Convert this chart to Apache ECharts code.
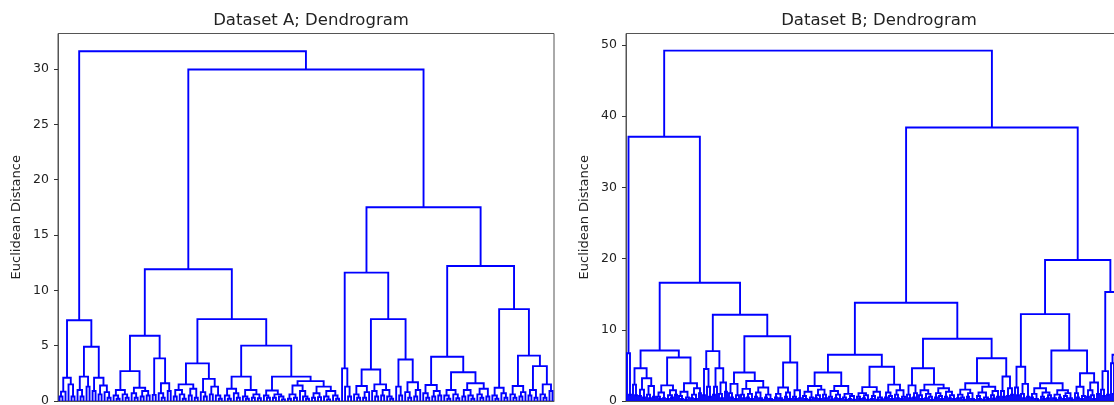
<!DOCTYPE html>
<html><head><meta charset="utf-8">
<script src="https://cdn.jsdelivr.net/npm/echarts@6/dist/echarts.min.js"></script>
<style>html,body{margin:0;padding:0;background:#fff}#c{width:1114px;height:405px}</style>
</head><body><div id="c"></div>
<script>
// Dendrogram trees: node = [mergeHeight, left, right]; 0 = a leaf.
const titles = ['Dataset A; Dendrogram', 'Dataset B; Dendrogram'];
const yName = 'Euclidean Distance';
const ticksA = [0, 5, 10, 15, 20, 25, 30];
const ticksB = [0, 10, 20, 30, 40, 50];
const yMaxA = 33.2, yMaxB = 51.6;

// ---- Dataset A ----
const A_c1 = [7.3,
  [2.1, [0.85,[0.4,0,0],0], [1.5,0,[0.4,0,0]]],
  [4.9,
    [2.2, [1.0,0,[0.4,0,0]], [1.3,0,0]],
    [2.1, [0.9,0,0], [1.4,[0.6,0,0],[0.8,0,[0.3,0,0]]]]]];
const A_c2a = [5.9,
  [2.7, [1.0,[0.5,0,[0.2,0,0]],[0.6,0,[0.3,0,0]]], [1.2,[0.7,0,[0.3,0,0]],[0.9,[0.4,0,0],[0.5,0,0]]]],
  [3.85, [0.55,0,0], [1.6,[0.7,0,[0.3,0,0]],[0.9,0,0]]]];
const A_c2b = [7.4,
  [3.4,
    [1.5,[1.0,[0.4,0,0],[0.6,0,[0.2,0,0]]],[1.1,[0.5,0,0],[0.3,0,0]]],
    [2.0,[0.8,0,[0.4,0,0]],[1.3,[0.6,0,0],[0.5,0,[0.2,0,0]]]]],
  [5.0,
    [2.2,[1.1,[0.5,0,[0.2,0,0]],[0.7,0,[0.3,0,0]]],[1.0,[0.4,0,[0.2,0,0]],[0.6,[0.3,0,0],[0.25,0,0]]]],
    [2.2,
      [0.95,[0.5,0,[0.3,0,0]],[0.6,[0.3,0,0],[0.4,0,[0.15,0,0]]]],
      [1.8,
        [1.4,[0.6,[0.2,0,0],[0.3,0,0]],[0.9,0,[0.4,0,[0.2,0,0]]]],
        [1.3,[0.7,[0.3,0,0],[0.35,0,0]],[0.9,[0.4,0,[0.15,0,0]],[0.5,0,[0.2,0,0]]]]]]]];
const A_c3 = [17.5,
  [11.6,
    [2.95, 0, [1.3,0,[0.4,0,0]]],
    [7.4,
      [2.85,[1.35,[0.6,0,[0.3,0,0]],[0.8,[0.3,0,0],0]],[1.5,[0.9,0,[0.4,0,0]],[1.0,[0.5,0,0],[0.4,0,[0.2,0,0]]]]],
      [3.75,[1.3,0,[0.5,0,0]],[1.7,[0.8,0,[0.3,0,0]],[1.0,[0.4,0,0],0]]]]],
  [12.2,
    [4.0,
      [1.45,[0.7,0,[0.3,0,0]],[0.9,[0.4,0,0],[0.5,0,0]]],
      [2.6,[1.0,[0.5,0,[0.2,0,0]],[0.6,0,[0.25,0,0]]],[1.6,[1.0,[0.4,0,0],[0.5,0,[0.2,0,0]]],[1.1,[0.6,0,[0.3,0,0]],[0.4,0,0]]]]],
    [8.3,
      [1.2,[0.5,0,[0.2,0,0]],[0.7,0,[0.3,0,0]]],
      [4.1,
        [1.35,[0.6,0,[0.3,0,0]],[0.8,[0.4,0,0],0]],
        [3.15,[1.0,[0.5,0,0],[0.3,0,0]],[1.5,[0.6,0,[0.3,0,0]],[0.9,0,0]]]]]]];
const treeA = [31.6, A_c1, [29.95, [11.9, A_c2a, A_c2b], A_c3]];

// ---- Dataset B ----
const B_left = [37.1,
  [6.7, 0, [0.9,0,0]],
  [16.6,
    [7.1,
      [4.6, [2.3,0,[0.8,0,0]], [3.2,[1.6,[0.7,0,0],[0.5,0,0]],[2.1,[0.9,0,[0.4,0,0]],[0.6,0,0]]]],
      [6.1,
        [2.2,[1.2,[0.6,0,[0.3,0,0]],[0.4,0,0]],[1.5,[0.8,[0.3,0,0],[0.5,0,0]],[0.9,0,0]]],
        [2.5,[1.3,[0.7,0,[0.3,0,0]],[0.5,[0.2,0,0],0]],[1.8,[0.9,[0.4,0,0],[0.3,0,0]],[1.1,0,0]]]]],
    [12.1,
      [7.0, [4.5,[0.8,0,0],[2.0,0,[0.6,0,0]]], [4.6,[2.0,[0.9,0,0],0],[2.6,[1.0,0,[0.4,0,0]],[1.3,0,0]]]],
      [9.1,
        [4.0,
          [2.4,[1.1,0,[0.5,0,0]],[0.8,[0.3,0,0],0]],
          [2.8,[1.7,[0.9,0,[0.4,0,0]],[1.0,[0.5,0,0],[0.3,0,0]]],[1.9,[1.2,[0.6,0,0],[0.4,0,[0.2,0,0]]],[0.9,[0.5,0,0],[0.3,0,[0.15,0,0]]]]]],
        [5.4,
          [1.9,[1.0,[0.5,0,0],[0.4,0,[0.2,0,0]]],[1.2,[0.6,0,0],[0.3,0,0]]],
          [1.5,[0.6,0,[0.3,0,0]],[0.4,0,0]]]]]]];
const B_rightA = [13.8,
  [6.5,
    [4.0,
      [2.1,[1.3,[0.7,0,[0.3,0,0]],[0.5,[0.2,0,0],0]],[1.6,[0.8,[0.4,0,0],[0.3,0,0]],[0.9,0,[0.4,0,0]]]],
      [2.1,[1.4,[0.6,0,[0.25,0,0]],[0.9,[0.4,0,0],[0.3,0,0]]],[1.0,[0.5,0,[0.2,0,0]],[0.7,[0.3,0,0],[0.2,0,0]]]]],
    [4.8,
      [1.95,[1.1,[0.6,0,[0.3,0,0]],[0.8,[0.4,0,0],[0.2,0,0]]],[1.3,[0.7,[0.3,0,0],0],[0.5,[0.2,0,0],[0.25,0,0]]]],
      [2.3,[1.2,[0.5,0,0],[0.7,0,[0.3,0,0]]],[1.5,[0.9,0,[0.4,0,0]],[0.6,[0.3,0,0],0]]]]],
  [8.75,
    [4.6,
      [2.2,[0.9,0,[0.4,0,0]],[1.1,[0.5,0,0],0]],
      [2.3,[1.5,[0.8,0,[0.3,0,0]],[1.0,[0.4,0,0],[0.6,0,[0.2,0,0]]]],[1.8,[1.1,[0.5,0,0],[0.7,0,[0.3,0,0]]],[1.3,[0.6,0,0],[0.8,[0.4,0,0],[0.3,0,0]]]]]],
    [6.0,
      [2.5,[1.6,[0.9,[0.4,0,0],[0.5,0,[0.2,0,0]]],[1.1,[0.6,0,0],[0.3,0,[0.15,0,0]]]],[2.0,[1.2,[0.7,0,[0.3,0,0]],[0.5,[0.2,0,0],[0.3,0,0]]],[1.4,[0.8,0,[0.35,0,0]],[0.6,0,0]]]],
      [3.45,[1.4,0,[0.6,0,0]],[1.8,[0.7,0,0],[0.9,0,0]]]]]];
const B_rightB = [19.8,
  [12.2,
    [4.8,[1.9,0,[0.8,0,0]],[2.4,[1.0,0,[0.4,0,0]],[0.6,0,0]]],
    [7.1,
      [2.5,[1.8,[1.0,[0.5,0,0],[0.3,0,[0.1,0,0]]],[1.2,[0.6,0,[0.3,0,0]],[0.8,[0.4,0,0],0]]],[1.5,[0.9,[0.4,0,[0.2,0,0]],[0.5,0,0]],[1.1,[0.7,[0.3,0,0],0],[0.4,0,[0.2,0,0]]]]],
      [3.9,[2.0,[1.1,0,[0.5,0,0]],[0.7,[0.3,0,0],0]],[2.6,[1.5,[0.6,0,0],[0.8,0,[0.3,0,0]]],[1.0,0,0]]]]],
  [15.3,
    [4.2,[1.6,0,[0.7,0,0]],[0.9,0,0]],
    [6.5,[5.3,0,[1.0,0,0]],[2.0,0,[0.6,0,0]]]]];
const treeB = [49.2, B_left, [38.4, B_rightA, B_rightB]];

// Layout (scipy style: leaves at 5, 15, 25, ...)
function layout(tree) {
  const links = [];
  let leaf = 0;
  function walk(n) {
    if (n === 0) { const x = 5 + 10 * leaf; leaf++; return { x: x, h: 0 }; }
    const l = walk(n[1]), r = walk(n[2]);
    links.push([l.x, r.x, l.h, r.h, n[0]]);
    return { x: (l.x + r.x) / 2, h: n[0] };
  }
  walk(tree);
  return { links: links, n: leaf };
}
const LA = layout(treeA), LB = layout(treeB);

const FONT = 'DejaVu Sans';
function renderU(params, api) {
  const xl = api.value(0), xr = api.value(1), hl = api.value(2), hr = api.value(3), h = api.value(4);
  return {
    type: 'polyline',
    shape: { points: [api.coord([xl, hl]), api.coord([xl, h]), api.coord([xr, h]), api.coord([xr, hr])] },
    style: { stroke: '#0000ff', lineWidth: 1.9, fill: null, lineJoin: 'miter' }
  };
}
function yAxisFor(idx, max, ticks) {
  return {
    type: 'value', gridIndex: idx, min: 0, max: max,
    name: yName, nameLocation: 'middle', nameGap: 35,
    nameTextStyle: { fontFamily: FONT, fontSize: 13, color: '#222' },
    axisLine: { show: true, lineStyle: { color: '#555', width: 1 } },
    axisTick: { show: true, length: 4, inside: false, customValues: ticks, lineStyle: { color: '#333' } },
    axisLabel: { customValues: ticks, margin: 9, fontFamily: FONT, fontSize: 12.5, color: '#222' },
    splitLine: { show: false }
  };
}
function xAxisFor(idx, n) {
  return {
    type: 'value', gridIndex: idx, min: 0, max: 10 * n,
    axisLine: { show: true, lineStyle: { color: '#555', width: 1 } },
    axisTick: { show: false }, axisLabel: { show: false }, splitLine: { show: false }
  };
}
const chart = echarts.init(document.getElementById('c'), null, { renderer: 'canvas' });
chart.setOption({
  animation: false,
  backgroundColor: '#fff',
  title: [
    { text: titles[0], left: 306, top: 7, textAlign: 'center', textStyle: { fontFamily: FONT, fontSize: 16.5, fontWeight: 'normal', color: '#222' } },
    { text: titles[1], left: 874, top: 7, textAlign: 'center', textStyle: { fontFamily: FONT, fontSize: 16.5, fontWeight: 'normal', color: '#222' } }
  ],
  grid: [
    { left: 58, top: 33.5, width: 496, bottom: 4, outerBoundsMode: 'none', containLabel: false, show: true, borderColor: '#555', borderWidth: 1, backgroundColor: 'transparent' },
    { left: 626, top: 33.5, width: 496, bottom: 4, outerBoundsMode: 'none', containLabel: false, show: true, borderColor: '#555', borderWidth: 1, backgroundColor: 'transparent' }
  ],
  xAxis: [xAxisFor(0, LA.n), xAxisFor(1, LB.n)],
  yAxis: [yAxisFor(0, yMaxA, ticksA), yAxisFor(1, yMaxB, ticksB)],
  series: [
    { type: 'custom', xAxisIndex: 0, yAxisIndex: 0, renderItem: renderU, data: LA.links, encode: { x: [0, 1], y: [2, 3, 4] }, clip: true },
    { type: 'custom', xAxisIndex: 1, yAxisIndex: 1, renderItem: renderU, data: LB.links, encode: { x: [0, 1], y: [2, 3, 4] }, clip: true }
  ]
});
</script></body></html>
